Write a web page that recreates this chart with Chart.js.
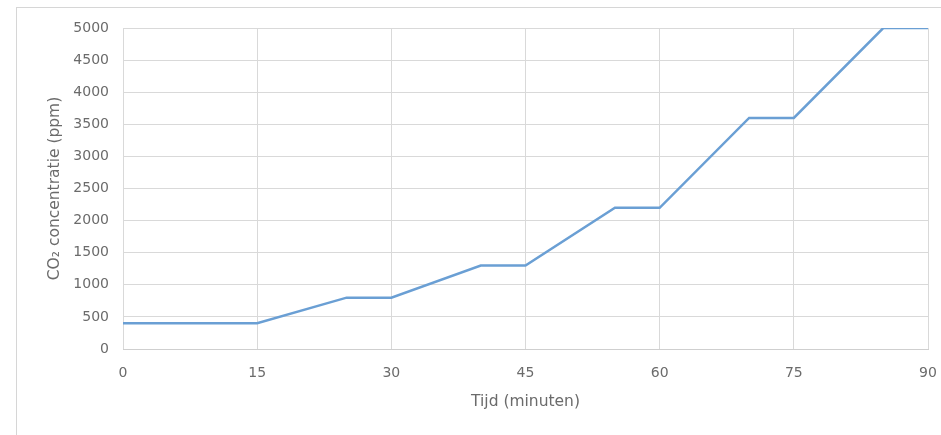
<!DOCTYPE html>
<html>
<head>
<meta charset="utf-8">
<script src="https://cdn.jsdelivr.net/npm/chart.js@4/dist/chart.umd.min.js"></script>
<style>
  html, body { margin: 0; padding: 0; background: #fff; }
  #wrap { position: relative; width: 941px; height: 435px; }
  #frame {
    position: absolute; left: 16px; top: 7px; right: 0; bottom: 0;
    border-left: 1px solid #d6d6d6; border-top: 1px solid #d6d6d6;
    pointer-events: none;
  }
</style>
</head>
<body>
<div id="wrap">
  <canvas id="co2"></canvas>
  <div id="frame"></div>
</div>
<script>
// tijd in minuten en gemeten CO2 (ppm)
const tijd = [0, 15, 25, 30, 40, 45, 55, 60, 70, 75, 85, 90];
const co2 = [400, 400, 800, 800, 1300, 1300, 2200, 2200, 3600, 3600, 5000, 5000];
const xTicks = [0, 15, 30, 45, 60, 75, 90];
const yTicks = [0, 500, 1000, 1500, 2000, 2500, 3000, 3500, 4000, 4500, 5000];

const textColor = '#6b6b6b';
const gridColor = '#d9d9d9';

const ctx = document.getElementById('co2').getContext('2d');
new Chart(ctx, {
  type: 'line',
  data: {
    datasets: [{
      label: 'CO2',
      data: tijd.map((t, i) => ({ x: t, y: co2[i] })),
      borderColor: '#6a9fd4',
      borderWidth: 2.5,
      pointRadius: 0,
      tension: 0,
      fill: false
    }]
  },
  options: {
    responsive: true,
    maintainAspectRatio: false,
    animation: false,
    layout: { padding: { top: 28, right: 13, bottom: 0, left: 0 } },
    plugins: {
      legend: { display: false },
      tooltip: { enabled: false }
    },
    scales: {
      x: {
        type: 'linear',
        min: 0,
        max: 90,
        afterBuildTicks: (scale) => { scale.ticks = xTicks.map(v => ({ value: v })); },
        afterFit: (scale) => {
          scale.height = 86;
          scale.paddingLeft = 0;
          scale.paddingRight = 0;
        },
        ticks: {
          color: textColor,
          padding: 16,
          maxRotation: 0,
          callback: (v) => String(v),
          font: { family: 'DejaVu Sans', size: 14 }
        },
        grid: { color: gridColor, drawTicks: false },
        border: { color: '#cfcfcf' },
        title: {
          display: true,
          text: 'Tijd (minuten)',
          color: textColor,
          padding: { top: 0, bottom: 24 },
          font: { family: 'DejaVu Sans', size: 15.5 }
        }
      },
      y: {
        min: 0,
        max: 5000,
        afterBuildTicks: (scale) => { scale.ticks = yTicks.map(v => ({ value: v })); },
        afterFit: (scale) => { scale.width = 123; },
        ticks: {
          color: textColor,
          padding: 14,
          callback: (v) => String(v),
          font: { family: 'DejaVu Sans', size: 14 }
        },
        grid: { color: gridColor, drawTicks: false },
        border: { display: false },
        title: {
          display: true,
          text: 'CO₂ concentratie (ppm)',
          color: textColor,
          padding: { top: 46, bottom: 0 },
          font: { family: 'DejaVu Sans', size: 15.5 }
        }
      }
    }
  }
});
</script>
</body>
</html>
